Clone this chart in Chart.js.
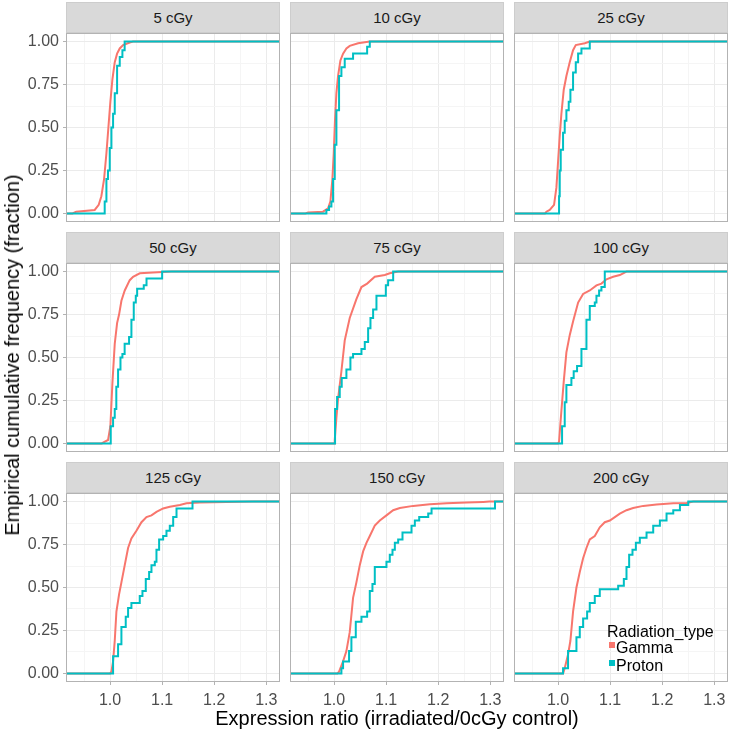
<!DOCTYPE html>
<html><head><meta charset="utf-8">
<script src="https://cdn.jsdelivr.net/npm/chart.js@4.4.1/dist/chart.umd.min.js"></script>
<style>
body{margin:0;background:#fff;width:730px;height:733px;position:relative;overflow:hidden;font-family:"Liberation Sans",Arial,Helvetica,sans-serif;}
.strip{position:absolute;background:#D9D9D9;border:1px solid #CDCDCD;box-sizing:border-box;text-align:center;font-size:15px;color:#1A1A1A;line-height:29px;}
canvas{position:absolute;}
.txt{position:absolute;white-space:nowrap;color:#000;}
.key{position:absolute;width:6px;height:6px;}
</style></head><body>
<script>
// ---------- data ----------
const panelLabels = ['5 cGy','10 cGy','25 cGy','50 cGy','75 cGy','100 cGy','125 cGy','150 cGy','200 cGy'];
const seriesNames = ['Gamma','Proton'];
const xMajorTicks = [1.0, 1.1, 1.2, 1.3];
const xTickLabels = ['1.0','1.1','1.2','1.3'];
const xMinorTicks = [0.95, 1.05, 1.15, 1.25];
const yMajorTicks = [0, 0.25, 0.5, 0.75, 1];
const yTickLabels = ['0.00','0.25','0.50','0.75','1.00'];
const yMinorTicks = [0.125, 0.375, 0.625, 0.875];

const gammaX = [
  [0.928,0.935,0.9705,0.9782,0.9833,0.9885,0.993,0.9968,1.0006,1.0045,1.009,1.0135,1.0186,1.025,1.0378,1.0442],
  [0.945,0.95,0.9788,0.9885,0.993,0.9968,0.9994,1.0019,1.0045,1.0077,1.0122,1.0173,1.0237,1.0301,1.0462,1.0686],
  [0.975,0.9776,0.984,0.9923,0.9968,1.0,1.0032,1.0064,1.0109,1.016,1.0224,1.0288,1.034,1.0513,1.0609],
  [0.984,0.9865,0.9962,1.0006,1.0045,1.009,1.0135,1.0173,1.0218,1.0282,1.0378,1.0442,1.0571,1.0827,1.118],
  [1.0,1.0013,1.0045,1.0077,1.0141,1.0205,1.0301,1.0429,1.0526,1.0635,1.0782,1.0974,1.107,1.1231],
  [1.0,1.0019,1.0064,1.0109,1.016,1.0224,1.0288,1.0385,1.0481,1.0609,1.0737,1.0833,1.0929,1.1058,1.1186,1.1314],
  [1.0,1.0026,1.0058,1.009,1.0122,1.0173,1.0218,1.0282,1.0346,1.041,1.0506,1.0603,1.0699,1.0795,1.0891,1.1019,1.1147,1.134,1.1468,1.1724,1.275],
  [1.0064,1.0096,1.0173,1.0237,1.0301,1.0365,1.0429,1.0494,1.0558,1.0622,1.0686,1.0782,1.0878,1.1006,1.1135,1.1263,1.1519,1.184,1.216,1.2545,1.2865,1.2981],
  [1.0096,1.0128,1.0192,1.0237,1.0288,1.0353,1.0417,1.0481,1.0545,1.0609,1.0705,1.0801,1.0897,1.0994,1.109,1.1186,1.1314,1.1442,1.1635,1.1891,1.2212,1.2468,1.2596]
];
const gammaY = [
  [0,0.01,0.02,0.05,0.1,0.2,0.35,0.5,0.65,0.78,0.88,0.93,0.96,0.98,0.995,1.0],
  [0,0.005,0.01,0.03,0.07,0.2,0.35,0.55,0.7,0.8,0.89,0.93,0.96,0.975,0.99,1.0],
  [0,0.01,0.02,0.05,0.15,0.3,0.45,0.58,0.72,0.8,0.88,0.95,0.98,0.99,1.0],
  [0,0.005,0.02,0.1,0.35,0.58,0.7,0.75,0.83,0.89,0.95,0.97,0.99,0.995,1.0],
  [0,0.02,0.15,0.26,0.42,0.6,0.73,0.84,0.91,0.93,0.97,0.98,0.99,1.0],
  [0,0.01,0.19,0.36,0.53,0.63,0.71,0.82,0.87,0.89,0.92,0.93,0.955,0.97,0.98,1.0],
  [0,0.01,0.07,0.19,0.36,0.46,0.53,0.63,0.73,0.785,0.83,0.88,0.91,0.92,0.94,0.96,0.97,0.98,0.99,0.995,1.0],
  [0,0.01,0.07,0.13,0.24,0.44,0.53,0.63,0.71,0.76,0.8,0.86,0.89,0.92,0.95,0.963,0.975,0.985,0.99,0.994,0.998,1.0],
  [0,0.03,0.11,0.19,0.36,0.5,0.59,0.67,0.73,0.78,0.8,0.85,0.88,0.89,0.91,0.93,0.95,0.963,0.975,0.983,0.99,0.992,1.0]
];
const protonX = [
  [0.9897,0.993,0.996,0.9994,1.0026,1.0058,1.009,1.0135,1.0186,1.0237,1.028],
  [0.9853,0.9904,0.9949,0.9981,1.0013,1.0045,1.0096,1.0141,1.0205,1.0365,1.0635,1.0686],
  [1.0019,1.0032,1.0051,1.0096,1.0128,1.016,1.0205,1.0237,1.0288,1.034,1.0385,1.0449,1.0609],
  [1.0013,1.0058,1.009,1.012,1.0154,1.020,1.0237,1.028,1.0365,1.041,1.0455,1.0494,1.052,1.0647,1.070,1.100],
  [1.0019,1.0058,1.0109,1.0147,1.0237,1.0314,1.0365,1.0526,1.059,1.0654,1.0699,1.075,1.0814,1.0994,1.1038,1.1135],
  [1.0077,1.0128,1.016,1.0256,1.030,1.0365,1.0449,1.0545,1.0609,1.0705,1.0737,1.0788,1.0833,1.0897],
  [1.0058,1.0154,1.0218,1.0301,1.0346,1.041,1.057,1.0622,1.0686,1.075,1.0795,1.0859,1.0891,1.0942,1.1019,1.1083,1.1147,1.1212,1.1276,1.1583],
  [1.0141,1.0173,1.0288,1.0333,1.0417,1.0526,1.0635,1.0686,1.0737,1.0782,1.1006,1.107,1.1122,1.1167,1.1231,1.1314,1.1487,1.1551,1.1635,1.1808,1.1872,1.309],
  [1.0096,1.0192,1.0353,1.0417,1.0481,1.0558,1.0609,1.0705,1.0801,1.1154,1.1263,1.1314,1.1365,1.1429,1.1494,1.157,1.1699,1.1827,1.1955,1.2083,1.2212,1.234,1.25]
];
const protonY = [
  [0.07,0.2,0.25,0.38,0.5,0.58,0.7,0.86,0.91,0.95,1.0],
  [0.02,0.04,0.07,0.2,0.4,0.6,0.8,0.85,0.9,0.93,0.97,1.0],
  [0.1,0.25,0.37,0.47,0.54,0.6,0.65,0.72,0.82,0.88,0.93,0.96,1.0],
  [0.1,0.15,0.2,0.33,0.43,0.5,0.52,0.58,0.62,0.72,0.82,0.86,0.9,0.92,0.96,1.0],
  [0.2,0.27,0.33,0.38,0.43,0.5,0.52,0.55,0.59,0.67,0.73,0.78,0.86,0.92,0.95,1.0],
  [0.1,0.24,0.34,0.38,0.42,0.45,0.55,0.72,0.8,0.82,0.86,0.89,0.91,1.0],
  [0.1,0.17,0.27,0.33,0.38,0.41,0.45,0.48,0.55,0.59,0.63,0.65,0.72,0.78,0.8,0.83,0.86,0.91,0.96,1.0],
  [0.03,0.07,0.13,0.21,0.3,0.33,0.36,0.48,0.52,0.62,0.65,0.69,0.72,0.76,0.78,0.82,0.86,0.89,0.91,0.93,0.96,1.0],
  [0.03,0.13,0.21,0.27,0.32,0.36,0.41,0.45,0.49,0.51,0.55,0.62,0.69,0.72,0.76,0.79,0.82,0.86,0.89,0.93,0.95,0.98,1.0]
];

// ---------- layout / style ----------
const X_MIN = 0.9154, X_MAX = 1.3263, Y_MIN = -0.05, Y_MAX = 1.05;
const COLORS = {Gamma:'#F8766D', Proton:'#00BFC4'};
const FONT = '"Liberation Sans", Arial, Helvetica, sans-serif';
const colLeft = [66, 290, 514], plotW = 214;
const rowTop = [33, 263, 493], plotH = 189;
const Y_AXIS_W = 66, X_AXIS_H = 40;

const near = (a, b) => Math.abs(a - b) < 1e-6;
const isIn = (v, arr) => arr.some(t => near(t, v));

const borderPlugin = {
  id: 'panelBorder',
  afterDraw(chart) {
    const a = chart.chartArea, c = chart.ctx;
    c.save(); c.strokeStyle = '#B3B3B3'; c.lineWidth = 1;
    c.strokeRect(a.left + 0.5, a.top + 0.5, a.right - a.left - 1, a.bottom - a.top - 1);
    c.restore();
  }
};

function addText(txt, css) {
  const d = document.createElement('div');
  d.className = 'txt'; d.textContent = txt;
  Object.assign(d.style, css);
  document.body.appendChild(d);
  return d;
}

panelLabels.forEach((lab, i) => {
  const r = Math.floor(i / 3), c = i % 3;
  const leftCol = c === 0, bottomRow = r === 2;
  // strip
  const s = document.createElement('div');
  s.className = 'strip'; s.textContent = lab;
  Object.assign(s.style, {left: colLeft[c] + 'px', top: (rowTop[r] - 31) + 'px', width: plotW + 'px', height: '31px'});
  document.body.appendChild(s);
  // canvas
  const cv = document.createElement('canvas');
  const cl = colLeft[c] - (leftCol ? Y_AXIS_W : 0);
  const cw = plotW + (leftCol ? Y_AXIS_W : 0);
  const ch = plotH + (bottomRow ? X_AXIS_H : 0);
  cv.width = cw; cv.height = ch;
  Object.assign(cv.style, {left: cl + 'px', top: rowTop[r] + 'px', width: cw + 'px', height: ch + 'px'});
  document.body.appendChild(cv);

  const gPts = [{x: X_MIN, y: 0}].concat(gammaX[i].map((x, k) => ({x, y: gammaY[i][k]}))).concat([{x: X_MAX, y: 1}]);
  const pPts = [{x: X_MIN, y: 0}].concat(protonX[i].map((x, k) => ({x, y: protonY[i][k]}))).concat([{x: X_MAX, y: 1}]);

  new Chart(cv, {
    type: 'line',
    data: {datasets: [
      {label: seriesNames[1], data: pPts, borderColor: COLORS.Proton, backgroundColor: COLORS.Proton, borderWidth: 2, stepped: true, pointRadius: 0, fill: false, order: 0},
      {label: seriesNames[0], data: gPts, borderColor: COLORS.Gamma, backgroundColor: COLORS.Gamma, borderWidth: 2, tension: 0, pointRadius: 0, fill: false, order: 1}
    ]},
    options: {
      responsive: false, animation: false, devicePixelRatio: 1,
      layout: {padding: 0, autoPadding: false},
      plugins: {legend: {display: false}, tooltip: {enabled: false}, title: {display: false}},
      scales: {
        x: {
          type: 'linear', min: X_MIN, max: X_MAX,
          afterBuildTicks: sc => { sc.ticks = xMinorTicks.concat(xMajorTicks).sort((a, b) => a - b).map(v => ({value: v})); },
          afterFit: sc => { sc.height = bottomRow ? X_AXIS_H : 0; sc.paddingLeft = 0; sc.paddingRight = 0; },
          border: {display: false},
          grid: {
            color: ctx => isIn(ctx.tick.value, xMajorTicks) ? '#EBEBEB' : '#F5F5F5',
            lineWidth: 1, drawTicks: bottomRow, tickLength: 3,
            tickColor: ctx => isIn(ctx.tick.value, xMajorTicks) ? '#B3B3B3' : 'rgba(0,0,0,0)'
          },
          ticks: {
            display: bottomRow, autoSkip: false, maxRotation: 0, padding: 6,
            color: '#4D4D4D', font: {size: 16, family: FONT},
            callback: v => { const k = xMajorTicks.findIndex(t => near(t, v)); return k >= 0 ? xTickLabels[k] : ''; }
          }
        },
        y: {
          type: 'linear', min: Y_MIN, max: Y_MAX,
          afterBuildTicks: sc => { sc.ticks = yMinorTicks.concat(yMajorTicks).sort((a, b) => a - b).map(v => ({value: v})); },
          afterFit: sc => { sc.width = leftCol ? Y_AXIS_W : 0; sc.paddingTop = 0; sc.paddingBottom = 0; },
          border: {display: false},
          grid: {
            color: ctx => isIn(ctx.tick.value, yMajorTicks) ? '#EBEBEB' : '#F5F5F5',
            lineWidth: 1, drawTicks: leftCol, tickLength: 3,
            tickColor: ctx => isIn(ctx.tick.value, yMajorTicks) ? '#B3B3B3' : 'rgba(0,0,0,0)'
          },
          ticks: {
            display: leftCol, autoSkip: false, padding: 4,
            color: '#4D4D4D', font: {size: 16, family: FONT},
            callback: v => { const k = yMajorTicks.findIndex(t => near(t, v)); return k >= 0 ? yTickLabels[k] : ''; }
          }
        }
      }
    },
    plugins: [borderPlugin]
  });
});

// axis titles
addText('Expression ratio (irradiated/0cGy control)', {left: '397px', top: '706px', fontSize: '20px', lineHeight: '24px', transform: 'translateX(-50%)'});
addText('Empirical cumulative frequency (fraction)', {left: '12px', top: '355px', fontSize: '20px', lineHeight: '24px', transform: 'translate(-50%,-50%) rotate(-90deg)'});

// legend
addText('Radiation_type', {left: '607px', top: '624px', fontSize: '16px', lineHeight: '16px'});
seriesNames.forEach((n, k) => {
  const top = [640, 658][k];
  const key = document.createElement('div');
  key.className = 'key';
  Object.assign(key.style, {left: '609px', top: (top + 2) + 'px', background: COLORS[n]});
  document.body.appendChild(key);
  addText(n, {left: '616px', top: top + 'px', fontSize: '16px', lineHeight: '16px'});
});
</script>
</body></html>
